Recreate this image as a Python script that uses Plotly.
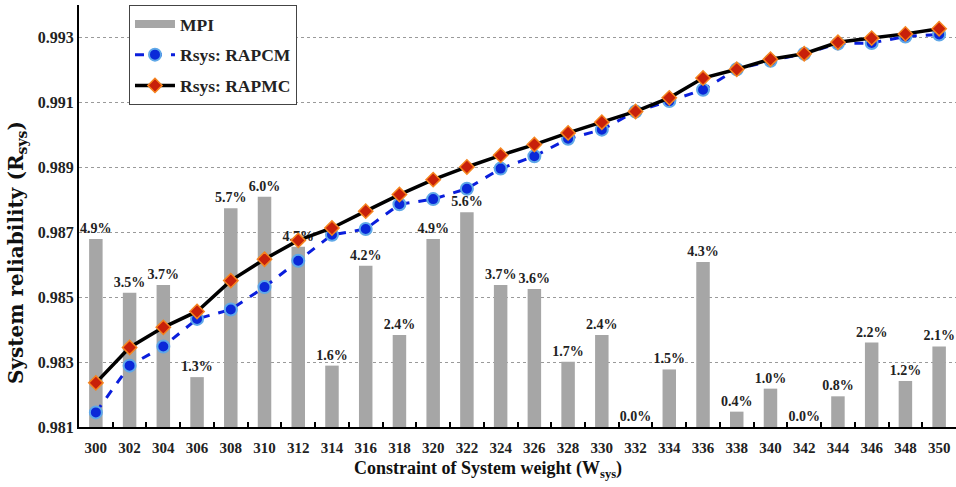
import plotly.graph_objects as go

weights = [str(w) for w in range(300, 351, 2)]
mpi = [4.9, 3.5, 3.7, 1.3, 5.7, 6.0, 4.7, 1.6, 4.2, 2.4, 4.9, 5.6, 3.7, 3.6, 1.7, 2.4,
       0.0, 1.5, 4.3, 0.4, 1.0, 0.0, 0.8, 2.2, 1.2, 2.1]
rapcm = [0.98145, 0.98289, 0.98348, 0.98433, 0.98462, 0.98531, 0.98612, 0.98692, 0.98710,
         0.98786, 0.98802, 0.98834, 0.98896, 0.98934, 0.98988, 0.99016, 0.99072, 0.99104,
         0.99139, 0.99202, 0.99228, 0.99250, 0.99281, 0.99283, 0.99303, 0.99309]
rapmc = [0.98236, 0.98345, 0.98407, 0.98456, 0.98551, 0.98617, 0.98675, 0.98713, 0.98765,
         0.98816, 0.98862, 0.98901, 0.98937, 0.98970, 0.99006, 0.99039, 0.99072, 0.99114,
         0.99175, 0.99202, 0.99233, 0.99250, 0.99285, 0.99298, 0.99311, 0.99327]

FONT = "Liberation Serif"
BAR_COLOR = "#A6A6A6"

fig = go.Figure()
fig.add_trace(go.Bar(
    x=weights, y=mpi, name="MPI", yaxis="y", showlegend=False,
    marker=dict(color=BAR_COLOR, line=dict(width=0)),
    width=0.4,
    text=[f"{v:.1f}%" for v in mpi], textposition="outside", constraintext="none",
    textfont=dict(family=FONT, size=14, color="#222222", weight="bold"),
    cliponaxis=False,
))
# legend entry for MPI drawn as a wide bar swatch
fig.add_trace(go.Scatter(
    x=[None], y=[None], name="MPI", yaxis="y", mode="lines", legendgroup="a",
    line=dict(color=BAR_COLOR, width=8),
))
fig.add_trace(go.Scatter(
    x=weights, y=rapcm, name="Rsys: RAPCM", yaxis="y2", mode="lines+markers", legendgroup="b",
    line=dict(color="#0A1EDC", width=3, dash="dash"),
    marker=dict(symbol="circle", size=12, color="#0A28D8", line=dict(color="#5FA8E8", width=2)),
))
fig.add_trace(go.Scatter(
    x=weights, y=rapmc, name="Rsys: RAPMC", yaxis="y2", mode="lines+markers", legendgroup="c",
    line=dict(color="black", width=3.5),
    marker=dict(symbol="diamond", size=11, color="#C8200A", line=dict(color="#F5841F", width=1.5)),
))

fig.update_layout(
    width=956, height=487,
    margin=dict(l=79, r=0, t=5, b=60),
    plot_bgcolor="white", paper_bgcolor="white",
    font=dict(family=FONT, color="#222222"),
    showlegend=True,
    xaxis=dict(
        type="category", categoryorder="array", categoryarray=weights,
        range=[-0.5, len(weights) - 0.5],
        tickson="boundaries", ticks="inside", ticklen=5, tickwidth=1.5, tickcolor="black",
        showline=True, linecolor="black", linewidth=2, tickangle=0, automargin=False,
        ticklabelstandoff=6,
        tickfont=dict(family=FONT, size=15, color="#222222", weight="bold"),
        showgrid=False,
    ),
    yaxis=dict(range=[0, 11], visible=False, showgrid=False),
    yaxis2=dict(
        overlaying="y", side="left", anchor="x", automargin=False,
        range=[0.981, 0.994], tick0=0.981, dtick=0.002, tickformat=".3f",
        showgrid=True, gridcolor="#9A9A9A", griddash="dot", gridwidth=1,
        showline=True, linecolor="black", linewidth=2,
        ticks="", zeroline=False,
        tickfont=dict(family=FONT, size=16, color="#222222", weight="bold"),
    ),
    legend=dict(
        x=0.057, y=1, xanchor="left", yanchor="top",
        bordercolor="#444444", borderwidth=1, bgcolor="white",
        font=dict(family=FONT, size=17.5, color="#222222", weight="bold"),
        itemwidth=40, traceorder="grouped", tracegroupgap=5,
    ),
    annotations=[
        dict(text="Constraint of System weight (W<sub>sys</sub>)", xref="paper", yref="paper",
             x=(488 - 79) / 877, y=(427 - 470) / 422, xanchor="center", yanchor="middle",
             showarrow=False, font=dict(family=FONT, size=18, color="#111111", weight="bold")),
        dict(text="System reliability (R<sub>sys</sub>)", xref="paper", yref="paper",
             x=(17 - 79) / 877, y=(427 - 253) / 422, xanchor="center", yanchor="middle",
             textangle=-90, showarrow=False,
             font=dict(family="DejaVu Serif", size=20, color="#111111", weight="bold")),
    ],
)

fig.write_html("out.html", config={"displayModeBar": False},
               post_script="document.body.style.margin='0px';")
